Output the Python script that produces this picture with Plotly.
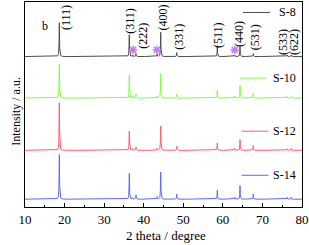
import numpy as np
import plotly.graph_objects as go

# Peak positions (2 theta, degrees)
peak_pos = [18.67, 36.36, 37.2, 38.05, 43.4, 44.29, 48.34, 58.6, 63.0, 64.33, 67.7, 76.3, 77.3]
# Peak heights (arbitrary units) for each sample
h_s8  = [35, 22, 1.5, 3.0, 2.5, 25, 4.0, 11.0, 1.5, 10, 3.0, 1.5, 1.5]
h_s10 = [35, 23, 1.5, 4.0, 2.0, 25, 4.0, 8.0, 2.0, 13, 5.0, 1.5, 1.5]
h_s12 = [49, 19, 1.5, 3.5, 2.0, 25, 4.0, 7.5, 2.0, 11, 5.0, 1.5, 2.0]
h_s14 = [46, 26, 1.5, 4.5, 2.5, 28, 5.0, 9.0, 2.0, 14, 5.0, 2.0, 2.0]
offsets = [150.8, 109.2, 56.8, 7.8]
names = ["S-8", "S-10", "S-12", "S-14"]
colors = ["#4d4d4d", "#80ff40", "#ff5a6e", "#5a6aff"]

hkl_labels = ["(111)", "(311)", "(222)", "(400)", "(331)", "(511)", "(440)", "(531)", "(533)", "(622)"]
hkl_x = [20.4, 36.5, 39.8, 44.9, 48.9, 58.8, 64.1, 68.1, 75.2, 78.0]
hkl_y = [189.5, 186.5, 171.5, 190.0, 170.5, 172.5, 173.5, 170.0, 165.5, 165.5]

star_x = [37.3, 43.3, 63.0]
star_y = [157.5, 157.5, 157.5]

x = np.arange(10, 80.001, 0.02)
w = 0.12

def pattern(heights, off):
    y = np.full_like(x, off)
    for p, h in zip(peak_pos, heights):
        y += h / (1 + ((x - p) / (w / 2)) ** 2)
    return y

fig = go.Figure()
for hs, off, nm, col in zip([h_s8, h_s10, h_s12, h_s14], offsets, names, colors):
    fig.add_trace(go.Scatter(x=x, y=pattern(hs, off), mode="lines",
                             line=dict(color=col, width=1), name=nm, showlegend=False))

fig.add_trace(go.Scatter(x=star_x, y=star_y, mode="markers",
                         marker=dict(symbol="asterisk-open", size=7, color="#c77cf2",
                                     line=dict(color="#c77cf2", width=1.5)),
                         showlegend=False))

serif = "Liberation Serif"
for lab, lx, ly in zip(hkl_labels, hkl_x, hkl_y):
    fig.add_annotation(x=lx, y=ly, text=lab, textangle=-90, showarrow=False,
                       font=dict(family=serif, size=12, color="black"))

# legend-like labels
leg = [(243, 270, 276.5, 12.5), (240, 266.5, 270.5, 78.3),
       (241.5, 268.5, 270.5, 131.5), (241.5, 268.5, 270.5, 175.7)]
W, H = 309, 245
for (x0, x1, tx, ty), nm, col in zip(leg, names, colors):
    fig.add_shape(type="line", xref="paper", yref="paper",
                  x0=(x0 - 25) / 277, x1=(x1 - 25) / 277,
                  y0=(207.5 - ty) / 205.5, y1=(207.5 - ty) / 205.5,
                  line=dict(color=col, width=1))
    fig.add_annotation(xref="paper", yref="paper", x=(tx - 25) / 277, y=(207.5 - ty) / 205.5,
                       xanchor="left", yanchor="middle", text=nm, showarrow=False,
                       font=dict(family=serif, size=12, color="black"))

fig.add_annotation(xref="paper", yref="paper", x=(40 - 25) / 277, y=(207.5 - 17.5) / 205.5,
                   text="b", showarrow=False, font=dict(family=serif, size=12, color="black"))
fig.add_annotation(xref="paper", yref="paper", x=(166 - 25) / 277, y=(207.5 - 236) / 205.5,
                   yanchor="middle", text="2 theta / degree", showarrow=False,
                   font=dict(family=serif, size=13, color="black"))
fig.add_annotation(xref="paper", yref="paper", x=(7 - 25) / 277, y=(207.5 - 112) / 205.5,
                   text="Intensity / a.u.", textangle=-90, showarrow=False,
                   font=dict(family=serif, size=12, color="black"))

fig.update_layout(
    width=W, height=H, margin=dict(l=25, r=7, t=2, b=37.5, autoexpand=False),
    paper_bgcolor="white", plot_bgcolor="white",
    font=dict(family=serif, size=12, color="black"),
    xaxis=dict(range=[10, 80], dtick=10, tick0=10, ticks="inside", ticklen=4,
               tickcolor="black", showline=True, linecolor="black", linewidth=1,
               mirror=True, showgrid=False, zeroline=False, ticklabelstandoff=0,
               tickfont=dict(family=serif, size=13),
               minor=dict(dtick=5, ticks="inside", ticklen=2, tickcolor="black")),
    yaxis=dict(range=[0, 205.5], showticklabels=False, ticks="", showline=True,
               linecolor="black", linewidth=1, mirror=True, showgrid=False, zeroline=False),
)
fig.write_html("out.html", config={"displayModeBar": False},
               post_script="document.body.style.margin='0';document.body.style.padding='0';")
